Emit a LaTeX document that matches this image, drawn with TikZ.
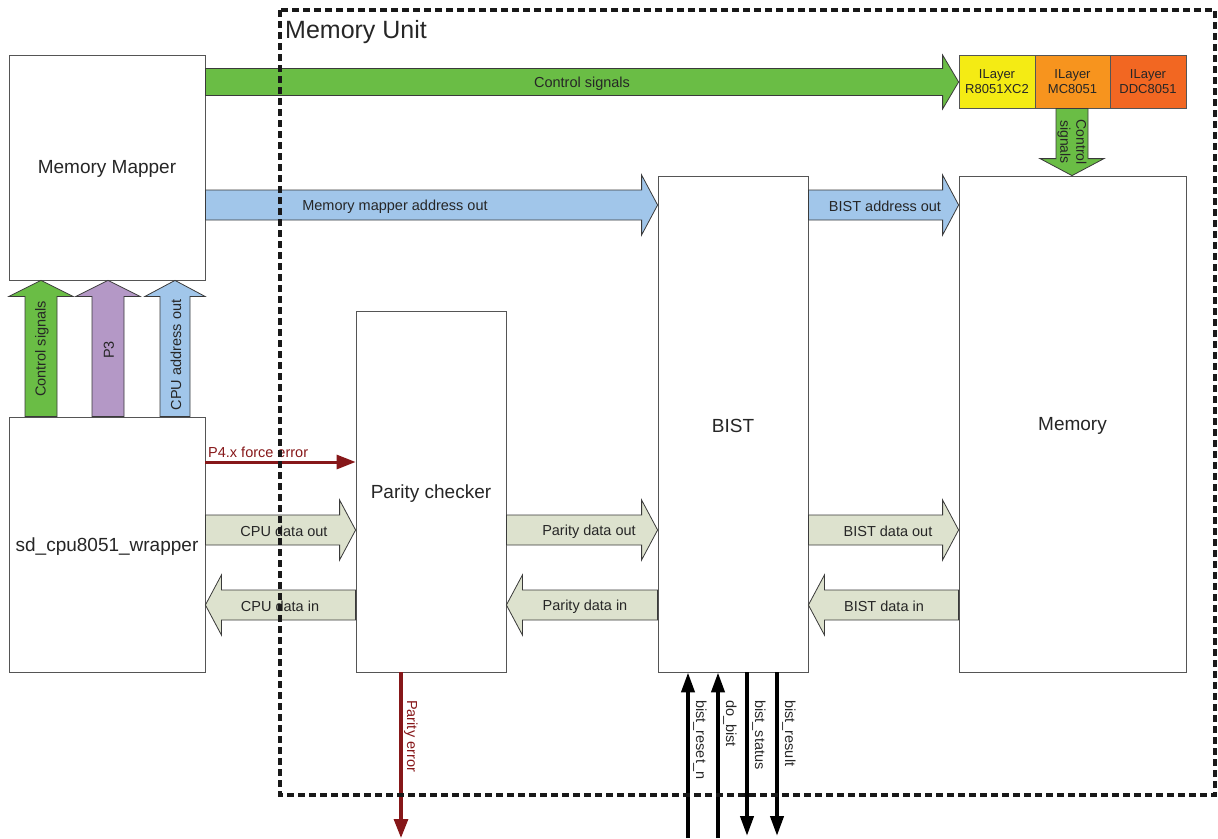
\documentclass[tikz,border=0pt]{standalone}
\usepackage{fontspec}
\setmainfont{Liberation Sans}
\usetikzlibrary{calc,arrows.meta}

\definecolor{ctlgreen}{HTML}{6ABD45}
\definecolor{addrblue}{HTML}{A1C6EA}
\definecolor{portpurple}{HTML}{B498C6}
\definecolor{datagrey}{HTML}{DDE2CE}
\definecolor{layyellow}{HTML}{F4EB14}
\definecolor{layorange}{HTML}{F7941E}
\definecolor{laydeep}{HTML}{F26722}
\definecolor{errred}{HTML}{861719}
\definecolor{boxgray}{HTML}{555555}
\definecolor{edgegray}{HTML}{3A3A3A}
\definecolor{textdark}{HTML}{262626}

% block arrow pointing right: from node, to node, centre y, body half, head half, fill
\newcommand\blkRight[6]{%
  \coordinate (bt) at (#1.east |- 0,#3);
  \coordinate (bh) at (#2.west |- 0,#3);
  \filldraw[blk,fill=#6] ($(bt)+(0,-#4)$) -- ($(bh)+(-16,-#4)$) -- ($(bh)+(-16,-#5)$) -- (bh)
    -- ($(bh)+(-16,#5)$) -- ($(bh)+(-16,#4)$) -- ($(bt)+(0,#4)$) -- cycle;}
% block arrow pointing left
\newcommand\blkLeft[6]{%
  \coordinate (bt) at (#1.west |- 0,#3);
  \coordinate (bh) at (#2.east |- 0,#3);
  \filldraw[blk,fill=#6] ($(bt)+(0,-#4)$) -- ($(bh)+(16,-#4)$) -- ($(bh)+(16,-#5)$) -- (bh)
    -- ($(bh)+(16,#5)$) -- ($(bh)+(16,#4)$) -- ($(bt)+(0,#4)$) -- cycle;}
% block arrow pointing up: from node, to node, centre x, body half, head half, fill
\newcommand\blkUp[6]{%
  \coordinate (bt) at (#3,0 |- #1.north);
  \coordinate (bh) at (#3,0 |- #2.south);
  \filldraw[blk,fill=#6] ($(bt)+(-#4,0)$) -- ($(bh)+(-#4,16)$) -- ($(bh)+(-#5,16)$) -- (bh)
    -- ($(bh)+(#5,16)$) -- ($(bh)+(#4,16)$) -- ($(bt)+(#4,0)$) -- cycle;}
% block arrow pointing down
\newcommand\blkDown[6]{%
  \coordinate (bt) at (#3,0 |- #1.south);
  \coordinate (bh) at (#3,0 |- #2.north);
  \filldraw[blk,fill=#6] ($(bt)+(-#4,0)$) -- ($(bh)+(-#4,-17)$) -- ($(bh)+(-#5,-17)$) -- (bh)
    -- ($(bh)+(#5,-17)$) -- ($(bh)+(#4,-17)$) -- ($(bt)+(#4,0)$) -- cycle;}

\begin{document}
\begin{tikzpicture}[x=1pt,y=-1pt,
  box/.style={draw=boxgray, line width=0.8pt, fill=white, text=textdark,
    font=\fontsize{19}{22}\selectfont, inner sep=0pt},
  ilbox/.style={draw=boxgray, line width=0.8pt, text=textdark, align=center,
    font=\fontsize{13}{15}\selectfont, inner sep=0pt, minimum height=53pt},
  blk/.style={draw=edgegray, line width=0.8pt},
  alabel/.style={text=textdark, font=\fontsize{14.5}{17}\selectfont, inner sep=0pt},
  sig/.style={line width=4pt, draw=black, -{Triangle[length=20pt,width=13pt]}},
  errsig/.style={line width=3.2pt, draw=errred, -{Triangle[length=19pt,width=14pt]}},
  unitframe/.style={draw=black!90, line width=3.2pt, dash pattern=on 7pt off 4pt}]

\useasboundingbox (0,0) rectangle (1218,838);

% functional blocks
\node[box, minimum width=196pt, minimum height=225pt] (mm) at (107,167.5) {};
\node[box, minimum width=196pt, minimum height=255pt] (cpu) at (107,544.5) {};
\node[box, minimum width=150pt, minimum height=361pt] (par) at (431,491.5) {};
\node[box, minimum width=150pt, minimum height=496pt] (bist) at (733,424) {};
\node[box, minimum width=227pt, minimum height=496pt] (mem) at (1072.5,424) {};
\node[box, draw=none, fill=none] (tmm) at (107,169) {Memory Mapper};
\node[box, draw=none, fill=none] (tcpu) at (107,547) {sd\_cpu8051\_wrapper};
\node[box, draw=none, fill=none] (tpar) at (431,494) {Parity checker};
\node[box, draw=none, fill=none] (tbist) at (733,426) {BIST};
\node[box, draw=none, fill=none] (tmem) at (1072.5,426) {Memory};

% ILayer selector
\node[ilbox, fill=layyellow, minimum width=76pt] (il1) at (997,81.5) {ILayer\\R8051XC2};
\node[ilbox, fill=layorange, minimum width=75pt] (il2) at (1072.5,81.5) {ILayer\\MC8051};
\node[ilbox, fill=laydeep, minimum width=76pt] (il3) at (1148,81.5) {ILayer\\DDC8051};

% wide bus arrows
\blkRight{mm}{il1}{82}{13.5}{27}{ctlgreen}
\blkRight{mm}{bist}{205}{15}{30}{addrblue}
\blkRight{bist}{mem}{205}{15}{30}{addrblue}
\blkDown{il2}{mem}{1072}{16}{32}{ctlgreen}
\blkUp{cpu}{mm}{41}{16}{32}{ctlgreen}
\blkUp{cpu}{mm}{108}{16}{32}{portpurple}
\blkUp{cpu}{mm}{175}{15}{30}{addrblue}
\blkRight{cpu}{par}{530}{15}{30}{datagrey}
\blkLeft{par}{cpu}{605}{15}{30}{datagrey}
\blkRight{par}{bist}{530}{15}{30}{datagrey}
\blkLeft{bist}{par}{605}{15}{30}{datagrey}
\blkRight{bist}{mem}{530}{15}{30}{datagrey}
\blkLeft{mem}{bist}{605}{15}{30}{datagrey}

% bus labels
\node[alabel] (lctl) at (582,83.5) {Control signals};
\node[alabel] (lmma) at (395,206.5) {Memory mapper address out};
\node[alabel] (lba) at (885,206.5) {BIST address out};
\node[alabel, rotate=-90, align=center, font=\fontsize{14}{16}\selectfont] (lctl2) at (1072,142) {Control\\signals};
\node[alabel, rotate=90] (lctl3) at (42,349) {Control signals};
\node[alabel, rotate=90] (lp3) at (109,350) {P3};
\node[alabel, rotate=90] (lcpa) at (176,355) {CPU address out};
\node[alabel] (lcdo) at (284,531.5) {CPU data out};
\node[alabel] (lcdi) at (280,606.5) {CPU data in};
\node[alabel] (lpdo) at (589,531.5) {Parity data out};
\node[alabel] (lpdi) at (585,606.5) {Parity data in};
\node[alabel] (lbdo) at (888,531.5) {BIST data out};
\node[alabel] (lbdi) at (884,606.5) {BIST data in};

% single-wire signals
\draw[errsig, line width=3pt] (cpu.east |- 0,462) -- (par.west |- 0,462);
\node[alabel, text=errred, anchor=west] (lp4) at (208,452) {P4.x force error};

\coordinate (perr) at (401,838);
\draw[errsig] (401,0 |- par.south) -- (perr);
\node[alabel, text=errred, rotate=-90, anchor=south west] (lperr) at (404,700) {Parity error};

\coordinate (rstn) at (688,838);
\coordinate (dob) at (718,838);
\coordinate (bstat) at (747,836);
\coordinate (bres) at (777,836);
\draw[sig] (rstn) -- (rstn |- bist.south);
\draw[sig] (dob) -- (dob |- bist.south);
\draw[sig] (bstat |- bist.south) -- (bstat);
\draw[sig] (bres |- bist.south) -- (bres);
\node[alabel, rotate=-90, anchor=south west] (lrst) at (693,700) {bist\_reset\_n};
\node[alabel, rotate=-90, anchor=south west] (ldob) at (723,700) {do\_bist};
\node[alabel, rotate=-90, anchor=south west] (lbst) at (752,700) {bist\_status};
\node[alabel, rotate=-90, anchor=south west] (lbrs) at (782,700) {bist\_result};

% memory unit boundary
\draw[unitframe] (280,10) rectangle (1215,795);
\node[anchor=west, inner sep=0pt, text=textdark, font=\fontsize{25}{30}\selectfont] (unit) at (285,32) {Memory Unit};
\end{tikzpicture}
\end{document}
